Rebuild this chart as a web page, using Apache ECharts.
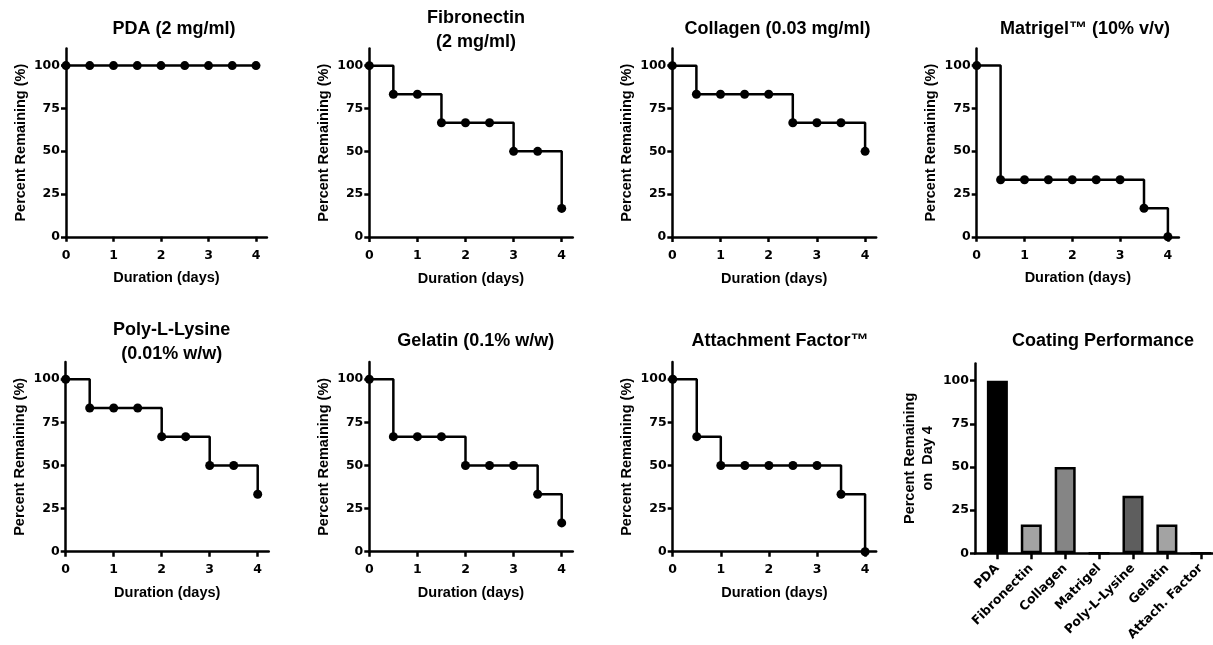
<!DOCTYPE html>
<html>
<head>
<meta charset="utf-8">
<script src="https://cdn.jsdelivr.net/npm/echarts@6/dist/echarts.min.js"></script>
<style>
html,body{margin:0;padding:0;background:#fff;}
#chart{width:1213px;height:645px;}
</style>
</head>
<body>
<div id="chart"></div>
<script>
// ---- data ----
const days = [0, 0.5, 1, 1.5, 2, 2.5, 3, 3.5, 4];
const pda = [100, 100, 100, 100, 100, 100, 100, 100, 100];
const fibronectin = [100, 83.3, 83.3, 66.7, 66.7, 66.7, 50, 50, 16.7];
const collagen = [100, 83.3, 83.3, 83.3, 83.3, 66.7, 66.7, 66.7, 50];
const matrigel = [100, 33.3, 33.3, 33.3, 33.3, 33.3, 33.3, 16.7, 0];
const polyLysine = [100, 83.3, 83.3, 83.3, 66.7, 66.7, 50, 50, 33.3];
const gelatin = [100, 66.7, 66.7, 66.7, 50, 50, 50, 33.3, 16.7];
const attachment = [100, 66.7, 50, 50, 50, 50, 50, 33.3, 0];
const panelTitles = ['PDA (2 mg/ml)', 'Fibronectin\n(2 mg/ml)', 'Collagen (0.03 mg/ml)', 'Matrigel™ (10% v/v)',
  'Poly-L-Lysine\n(0.01% w/w)', 'Gelatin (0.1% w/w)', 'Attachment Factor™', 'Coating Performance'];
const barCategories = ['PDA', 'Fibronectin', 'Collagen', 'Matrigel', 'Poly-L-Lysine', 'Gelatin', 'Attach. Factor'];
const barValues = [100, 16.7, 50, 0, 33.3, 16.7, 0];
const yTicks = [0, 25, 50, 75, 100];
const xTicks = [0, 1, 2, 3, 4];
const xName = 'Duration (days)';
const yName = 'Percent Remaining (%)';
const barYName = 'Percent Remaining\non  Day 4';

// ---- styles / layout ----
const barColors = ['#000000', '#a3a3a3', '#858585', '#a3a3a3', '#5e5e5e', '#a3a3a3', '#a3a3a3'];
const FONT = '"Liberation Sans", Arial, sans-serif';
const TICKFONT = '"DejaVu Sans", "Liberation Sans", sans-serif';
const stepSeries = [pda, fibronectin, collagen, matrigel, polyLysine, gelatin, attachment];
// [left, pxPerUnit, top, height]
const layout = [
  [66, 47.5, 48.5, 188.3], [369.3, 48.1, 48.5, 188.5], [672.3, 48.2, 48.5, 188.5], [976.7, 47.8, 48.5, 188.3],
  [65.7, 48.0, 362.0, 189.7], [369.3, 48.1, 362.0, 189.7], [672.7, 48.1, 362.0, 189.7]
];
const titlePos = [[169, 12.5], [471, 1.5], [772.5, 12.5], [1080, 12.5], [166.7, 313.5], [470.8, 324.5], [775, 324.5], [1098, 324.5]];
const XMAX = 4.23;

const grids = [], xAxes = [], yAxes = [], series = [], titles = [];
const axisLineStyle = { show: true, lineStyle: { color: '#000', width: 2.5 } };
const tickStyle = { show: true, length: 5, inside: false, lineStyle: { color: '#000', width: 2.5 } };
const labelFont = { color: '#000', fontSize: 12.5, fontWeight: 'bold', fontFamily: TICKFONT };
const nameFont = { color: '#000', fontSize: 14.5, fontWeight: 'bold', fontFamily: FONT };

titlePos.forEach((p, i) => {
  titles.push({
    text: panelTitles[i], left: p[0], top: p[1], textAlign: 'center',
    textStyle: { fontSize: 18, fontWeight: 'bold', fontFamily: FONT, color: '#000', lineHeight: 23.5 }
  });
});

layout.forEach((L, i) => {
  grids.push({ left: L[0], top: L[2], width: L[1] * XMAX, height: L[3], containLabel: false });
  xAxes.push({
    gridIndex: i, type: 'value', min: 0, max: XMAX,
    name: xName, nameLocation: 'middle', nameGap: 34, nameTextStyle: nameFont,
    axisLine: { ...axisLineStyle, onZero: false },
    axisTick: { ...tickStyle, customValues: xTicks },
    axisLabel: { ...labelFont, margin: 12, customValues: xTicks, formatter: v => String(v) },
    splitLine: { show: false }
  });
  yAxes.push({
    gridIndex: i, type: 'value', min: 0, max: 110,
    name: yName, nameLocation: 'middle', nameGap: 38, nameRotate: 90, nameTextStyle: nameFont,
    axisLine: { ...axisLineStyle, onZero: false },
    axisTick: { ...tickStyle, customValues: yTicks },
    axisLabel: { ...labelFont, margin: 6, customValues: yTicks, formatter: v => String(v) },
    splitLine: { show: false }
  });
  series.push({
    type: 'line', xAxisIndex: i, yAxisIndex: i, step: 'end', clip: false,
    data: days.map((d, k) => [d, stepSeries[i][k]]),
    symbol: 'circle', symbolSize: 9, showSymbol: true,
    lineStyle: { color: '#000', width: 2.5 },
    itemStyle: { color: '#000' },
    animation: false
  });
});

// bar panel
const bi = 7;
grids.push({ left: 975, top: 363.4, width: 238, height: 189.9 });
xAxes.push({
  gridIndex: bi, type: 'value', min: -0.66, max: 6.36,
  axisLine: { ...axisLineStyle, onZero: false },
  axisTick: { ...tickStyle, length: 6, customValues: barCategories.map((c, k) => k) },
  axisLabel: { ...labelFont, rotate: 45, margin: 13, customValues: barCategories.map((c, k) => k), formatter: v => barCategories[Math.round(v)] },
  splitLine: { show: false }
});
yAxes.push({
  gridIndex: bi, type: 'value', min: 0, max: 110,
  name: barYName, nameLocation: 'middle', nameGap: 38, nameRotate: 90,
  nameTextStyle: { ...nameFont, lineHeight: 18, align: 'center' },
  axisLine: { ...axisLineStyle, onZero: false },
  axisTick: { ...tickStyle, customValues: yTicks },
  axisLabel: { ...labelFont, margin: 6, customValues: yTicks, formatter: v => String(v) },
  splitLine: { show: false }
});
series.push({
  type: 'bar', xAxisIndex: bi, yAxisIndex: bi, barWidth: 21,
  data: barValues.map((v, k) => ({ value: [k, v], itemStyle: { color: barColors[k] } })),
  itemStyle: { borderColor: '#000', borderWidth: 2.5 },
  animation: false
});

const chart = echarts.init(document.getElementById('chart'), null, { renderer: 'canvas' });
chart.setOption({
  backgroundColor: '#fff',
  animation: false,
  title: titles,
  grid: grids,
  xAxis: xAxes,
  yAxis: yAxes,
  series: series
});
</script>
</body>
</html>
